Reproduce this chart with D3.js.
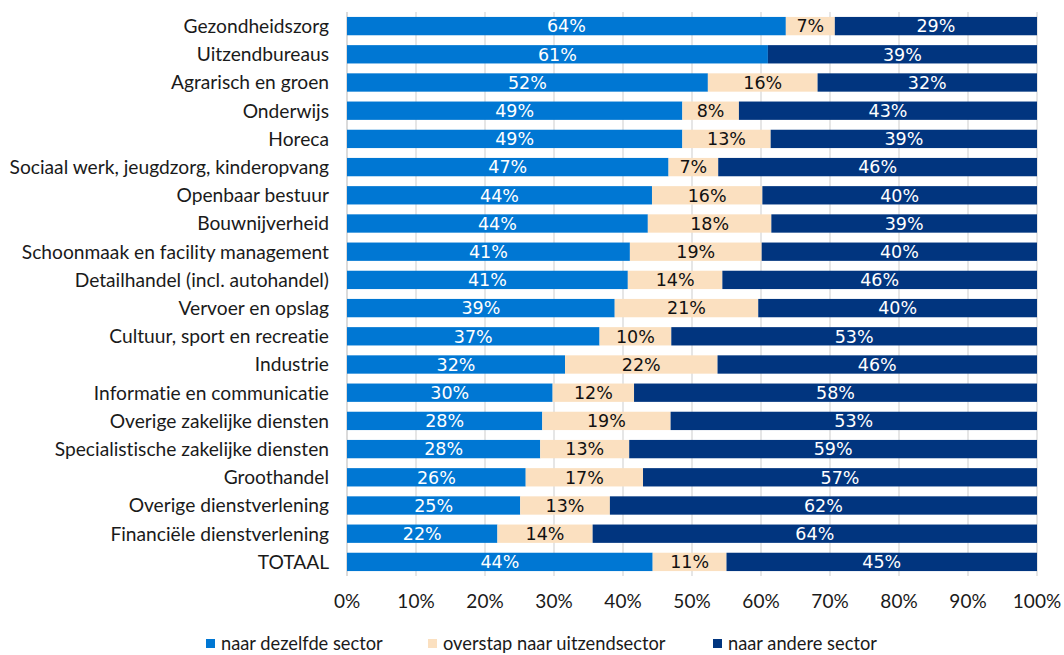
<!DOCTYPE html>
<html>
<head>
<meta charset="utf-8">
<script src="https://cdn.jsdelivr.net/npm/d3@7"></script>
<style>
  html, body { margin: 0; padding: 0; background: #fff; }
  svg { display: block; }
  text { font-variant-ligatures: none; font-feature-settings: "liga" 0, "clig" 0; }
</style>
</head>
<body>
<svg id="chart" width="1064" height="655"></svg>
<script>
// Data
const sectors = [
  'Gezondheidszorg', 'Uitzendbureaus', 'Agrarisch en groen', 'Onderwijs', 'Horeca',
  'Sociaal werk, jeugdzorg, kinderopvang', 'Openbaar bestuur', 'Bouwnijverheid',
  'Schoonmaak en facility management', 'Detailhandel (incl. autohandel)', 'Vervoer en opslag',
  'Cultuur, sport en recreatie', 'Industrie', 'Informatie en communicatie',
  'Overige zakelijke diensten', 'Specialistische zakelijke diensten', 'Groothandel',
  'Overige dienstverlening', 'Financiële dienstverlening', 'TOTAAL'
];
const sameSector = [63.6, 61.0, 52.3, 48.6, 48.6, 46.6, 44.2, 43.6, 41.0, 40.7, 38.8, 36.6, 31.6, 29.8, 28.3, 28.0, 25.9, 25.1, 21.8, 44.3];
const toTemp     = [7.1, 0, 15.9, 8.2, 12.8, 7.2, 16.0, 17.9, 19.1, 13.7, 20.8, 10.4, 22.1, 11.8, 18.6, 12.9, 17.0, 13.0, 13.8, 10.7];
const otherSector = [29.3, 39.0, 31.8, 43.2, 38.6, 46.2, 39.8, 38.5, 39.9, 45.6, 40.4, 53.0, 46.3, 58.4, 53.1, 59.1, 57.1, 61.9, 64.4, 45.0];

const seriesNames = ['naar dezelfde sector', 'overstap naar uitzendsector', 'naar andere sector'];
const seriesColors = ['#0077d3', '#fbe0c0', '#01357f'];
const labelColors = ['#fff', '#111', '#fff'];
const xTicks = d3.range(0, 101, 10);

// Layout
const width = 1064, height = 655;
const margin = {top: 12, right: 27, bottom: 79, left: 347};
const svg = d3.select('#chart');

const x = d3.scaleLinear().domain([0, 100]).range([margin.left, width - margin.right]);
const y = d3.scaleBand().domain(sectors).range([margin.top, height - margin.bottom]).paddingInner(0.35).paddingOuter(0.175);

const rows = sectors.map((s, i) => ({sector: s, values: [sameSector[i], toTemp[i], otherSector[i]]}));
const stack = d3.stack().keys([0, 1, 2]).value((d, k) => d.values[k]);
const layers = stack(rows);

// Grid
svg.append('g')
  .selectAll('line')
  .data(xTicks)
  .join('line')
  .attr('x1', d => x(d)).attr('x2', d => x(d))
  .attr('y1', margin.top).attr('y2', height - margin.bottom)
  .attr('stroke', d => d === 0 ? '#c8c8c8' : '#d9d9d9')
  .attr('stroke-width', 1.3);

// Bars
const layerG = svg.append('g')
  .selectAll('g')
  .data(layers)
  .join('g')
  .attr('fill', (d, i) => seriesColors[i]);

layerG.selectAll('rect')
  .data(d => d)
  .join('rect')
  .attr('x', d => x(d[0]))
  .attr('y', d => y(d.data.sector))
  .attr('width', d => x(d[1]) - x(d[0]))
  .attr('height', y.bandwidth());

// Value labels
const fmt = v => Math.round(v) + '%';
svg.append('g')
  .selectAll('g')
  .data(layers)
  .join('g')
  .attr('fill', (d, i) => labelColors[i])
  .selectAll('text')
  .data(d => d.filter(p => p[1] - p[0] > 0.5).map(p => ({p, key: d.key})))
  .join('text')
  .attr('x', d => x((d.p[0] + d.p[1]) / 2))
  .attr('y', d => y(d.p.data.sector) + y.bandwidth() / 2)
  .attr('dy', '0.36em')
  .attr('text-anchor', 'middle')
  .style('font-family', 'DejaVu Sans, sans-serif')
  .style('font-size', '17.5px')
  .text(d => fmt(d.p.data.values[d.key]));

// Category labels
svg.append('g')
  .selectAll('text')
  .data(sectors)
  .join('text')
  .attr('x', margin.left - 18)
  .attr('y', d => y(d) + y.bandwidth() / 2)
  .attr('dy', '0.36em')
  .attr('text-anchor', 'end')
  .attr('fill', '#1a1a1a')
  .style('font-family', 'Lato, sans-serif')
  .style('font-size', '19.2px')
  .text(d => d);

// X tick labels
svg.append('g')
  .selectAll('text')
  .data(xTicks)
  .join('text')
  .attr('x', d => x(d))
  .attr('y', 601)
  .attr('dy', '0.36em')
  .attr('text-anchor', 'middle')
  .attr('fill', '#1a1a1a')
  .style('font-family', 'Lato, sans-serif')
  .style('font-size', '19px')
  .text(d => d + '%');

// Legend
const legendX = [206, 428, 713];
const legend = svg.append('g')
  .selectAll('g')
  .data(seriesNames)
  .join('g')
  .attr('transform', (d, i) => `translate(${legendX[i]},643)`);
legend.append('rect')
  .attr('x', 0).attr('y', -4)
  .attr('width', 9).attr('height', 9)
  .attr('fill', (d, i) => seriesColors[i]);
legend.append('text')
  .attr('x', 15)
  .attr('dy', '0.36em')
  .attr('fill', '#1a1a1a')
  .style('font-family', 'Lato, sans-serif')
  .style('font-size', '18.3px')
  .text(d => d);
</script>
</body>
</html>
